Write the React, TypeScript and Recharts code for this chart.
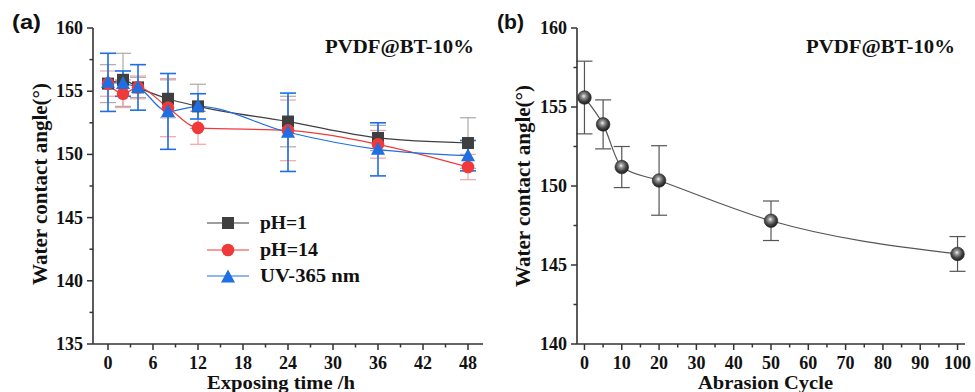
import React from "react";
import { LineChart, Line, XAxis, YAxis, ErrorBar } from "recharts";

// panel (a): exposing time
const hours = [0, 2, 4, 8, 12, 24, 36, 48];
const ph1 = [155.6, 155.9, 155.3, 154.4, 153.8, 152.6, 151.3, 150.9];
const ph1Err = [1.5, 2.1, 0.8, 1.5, 1.75, 2.0, 1.0, 2.0];
const ph14 = [155.6, 154.8, 155.3, 153.7, 152.1, 151.9, 150.8, 149.0];
const ph14Err = [1.0, 1.1, 0.9, 2.3, 1.3, 2.4, 1.1, 1.0];
const uv = [155.7, 155.6, 155.3, 153.4, 153.8, 151.75, 150.4, 149.9];
const uvErr = [2.3, 1.0, 1.8, 3.0, 1.0, 3.1, 2.1, 1.2];
const hourTicks = [0, 3, 6, 9, 12, 15, 18, 21, 24, 27, 30, 33, 36, 39, 42, 45, 48];
const angleTicksA = [135, 137.5, 140, 142.5, 145, 147.5, 150, 152.5, 155, 157.5, 160];

// panel (b): abrasion
const cycles = [0, 5, 10, 20, 50, 100];
const abrasion = [155.6, 153.9, 151.2, 150.35, 147.8, 145.7];
const abrasionErr = [2.3, 1.55, 1.3, 2.2, 1.25, 1.1];
const cycleTicks = [0, 5, 10, 15, 20, 25, 30, 35, 40, 45, 50, 55, 60, 65, 70, 75, 80, 85, 90, 95, 100];
const angleTicksB = [140, 142.5, 145, 147.5, 150, 152.5, 155, 157.5, 160];

const dataA = hours.map((t, i) => ({
  t,
  ph1: ph1[i],
  ph1Err: ph1Err[i],
  ph14: ph14[i],
  ph14Err: ph14Err[i],
  uv: uv[i],
  uvErr: uvErr[i],
}));
const dataB = cycles.map((c, i) => ({ c, v: abrasion[i], e: abrasionErr[i] }));

const SERIF = "Liberation Serif";
const SANS = "Liberation Sans";
const AXIS = "#333";
const BLACK = "#3f3f3f";
const RED = "#f03a3a";
const BLUE = "#1f6fe3";

const serifStyle = { fontFamily: SERIF, fontWeight: 700 };

const isMajor = (v: number, step: number) => Math.abs(v / step - Math.round(v / step)) < 1e-6;

const makeYTick = (step: number) => (props: any) => {
  const { x, y, payload } = props;
  const major = isMajor(payload.value, step);
  return (
    <g>
      <line x1={x} x2={x - (major ? 6 : 3.5)} y1={y} y2={y} stroke={AXIS} strokeWidth={1.5} />
      {major && (
        <text x={x - 10} y={y + 6} textAnchor="end" style={serifStyle} fontSize={18} fill="#111">
          {payload.value}
        </text>
      )}
    </g>
  );
};

const makeXTick = (step: number) => (props: any) => {
  const { x, y, payload } = props;
  const major = isMajor(payload.value, step);
  return (
    <g>
      <line x1={x} x2={x} y1={y} y2={y + (major ? 6 : 3.5)} stroke={AXIS} strokeWidth={1.5} />
      {major && (
        <text x={x} y={y + 25} textAnchor="middle" style={serifStyle} fontSize={18} fill="#111">
          {payload.value}
        </text>
      )}
    </g>
  );
};

const Square = ({ cx, cy }: any) => <rect x={cx - 6} y={cy - 6} width={12} height={12} fill={BLACK} />;
const Circle = ({ cx, cy }: any) => <circle cx={cx} cy={cy} r={6.3} fill={RED} />;
const Triangle = ({ cx, cy }: any) => (
  <path d={`M${cx},${cy - 7.5} L${cx + 7},${cy + 5.5} L${cx - 7},${cy + 5.5} Z`} fill={BLUE} />
);
const Sphere = ({ cx, cy }: any) => <circle cx={cx} cy={cy} r={6.8} fill="url(#sphereGrad)" stroke="#222" strokeWidth={0.6} />;

const frameLine = { stroke: AXIS, strokeWidth: 1.6 };

const PanelA = () => (
  <LineChart width={490} height={392} data={dataA} margin={{ top: 28, right: 7, bottom: 0, left: 0 }}>
    <XAxis
      dataKey="t"
      type="number"
      domain={[-2, 50]}
      ticks={hourTicks}
      interval={0}
      tickSize={0}
      tickMargin={0}
      tickLine={false}
      height={48}
      axisLine={frameLine}
      tick={makeXTick(6)}
      allowDataOverflow
    />
    <XAxis xAxisId="top" orientation="top" type="number" domain={[-2, 50]} height={0} tick={false} tickLine={false} axisLine={frameLine} />
    <YAxis
      type="number"
      domain={[135, 160]}
      ticks={angleTicksA}
      interval={0}
      tickSize={0}
      tickMargin={0}
      tickLine={false}
      width={93}
      axisLine={frameLine}
      tick={makeYTick(5)}
      allowDataOverflow
    />
    <YAxis yAxisId="right" orientation="right" type="number" domain={[135, 160]} width={0} tick={false} tickLine={false} axisLine={frameLine} />
    <Line dataKey="ph1" type="monotone" stroke={BLACK} strokeWidth={1.2} dot={(p: any) => <Square key={p.index} {...p} />} isAnimationActive={false}>
      <ErrorBar dataKey="ph1Err" direction="y" width={8} stroke="#aaaaaa" strokeWidth={1.2} />
    </Line>
    <Line dataKey="ph14" type="monotone" stroke={RED} strokeWidth={1.2} dot={(p: any) => <Circle key={p.index} {...p} />} isAnimationActive={false}>
      <ErrorBar dataKey="ph14Err" direction="y" width={8} stroke="#f5a3a3" strokeWidth={1.2} />
    </Line>
    <Line dataKey="uv" type="monotone" stroke={BLUE} strokeWidth={1.2} dot={(p: any) => <Triangle key={p.index} {...p} />} isAnimationActive={false}>
      <ErrorBar dataKey="uvErr" direction="y" width={8} stroke={BLUE} strokeWidth={1.6} />
    </Line>
  </LineChart>
);

const PanelB = () => (
  <LineChart width={485} height={392} data={dataB} margin={{ top: 28, right: 10, bottom: 0, left: 0 }}>
    <defs>
      <radialGradient id="sphereGrad" cx="45%" cy="40%" r="60%">
        <stop offset="0%" stopColor="#f4f4f4" />
        <stop offset="25%" stopColor="#9a9a9a" />
        <stop offset="65%" stopColor="#444" />
        <stop offset="100%" stopColor="#1c1c1c" />
      </radialGradient>
    </defs>
    <XAxis
      dataKey="c"
      type="number"
      domain={[-2, 102]}
      ticks={cycleTicks}
      interval={0}
      tickSize={0}
      tickMargin={0}
      tickLine={false}
      height={48}
      axisLine={frameLine}
      tick={makeXTick(10)}
      allowDataOverflow
    />
    <XAxis xAxisId="top" orientation="top" type="number" domain={[-2, 102]} height={0} tick={false} tickLine={false} axisLine={frameLine} />
    <YAxis
      type="number"
      domain={[140, 160]}
      ticks={angleTicksB}
      interval={0}
      tickSize={0}
      tickMargin={0}
      tickLine={false}
      width={87}
      axisLine={frameLine}
      tick={makeYTick(5)}
      allowDataOverflow
    />
    <YAxis yAxisId="right" orientation="right" type="number" domain={[140, 160]} width={0} tick={false} tickLine={false} axisLine={frameLine} />
    <Line dataKey="v" type="monotone" stroke="#555" strokeWidth={1.2} dot={(p: any) => <Sphere key={p.index} {...p} />} isAnimationActive={false}>
      <ErrorBar dataKey="e" direction="y" width={8} stroke="#555" strokeWidth={1.2} />
    </Line>
  </LineChart>
);

const txt = { style: serifStyle, fill: "#111", lengthAdjust: "spacingAndGlyphs" };

const Overlay = () => (
  <svg width={975} height={392} style={{ position: "absolute", left: 0, top: 0, pointerEvents: "none" }}>
    <text x={12} y={29} style={{ fontFamily: SANS, fontWeight: 700 }} fontSize={21} fill="#111" textLength={29} lengthAdjust="spacingAndGlyphs">(a)</text>
    <text x={497} y={29} style={{ fontFamily: SANS, fontWeight: 700 }} fontSize={21} fill="#111" textLength={27} lengthAdjust="spacingAndGlyphs">(b)</text>

    <text {...txt} x={325} y={53} fontSize={18} textLength={149}>PVDF@BT-10%</text>
    <text {...txt} x={806} y={53} fontSize={18} textLength={149}>PVDF@BT-10%</text>

    <text {...txt} fontSize={20} textAnchor="middle" textLength={202} transform="translate(47,184) rotate(-90)">Water contact angle(°)</text>
    <text {...txt} fontSize={20} textAnchor="middle" textLength={202} transform="translate(530,186) rotate(-90)">Water contact angle(°)</text>

    <text {...txt} x={207} y={389} fontSize={19} textLength={148}>Exposing time /h</text>
    <text {...txt} x={698} y={389} fontSize={19} textLength={135}>Abrasion Cycle</text>

    {/* legend, panel (a) */}
    <line x1={207} x2={249} y1={223} y2={223} stroke={BLACK} strokeWidth={1.2} />
    <Square cx={228} cy={223} />
    <text {...txt} x={260} y={229} fontSize={18} textLength={47}>pH=1</text>
    <line x1={207} x2={249} y1={250} y2={250} stroke={RED} strokeWidth={1.2} />
    <Circle cx={228} cy={250} />
    <text {...txt} x={260} y={256} fontSize={18} textLength={58}>pH=14</text>
    <line x1={207} x2={249} y1={276} y2={276} stroke={BLUE} strokeWidth={1.2} />
    <Triangle cx={228} cy={277} />
    <text {...txt} x={260} y={282} fontSize={18} textLength={100}>UV-365 nm</text>
  </svg>
);

export default function App() {
  return (
    <div style={{ position: "absolute", left: 0, top: 0, width: 975, height: 392, background: "#fff" }}>
      <div style={{ position: "absolute", left: 0, top: 0 }}>
        <PanelA />
      </div>
      <div style={{ position: "absolute", left: 490, top: 0 }}>
        <PanelB />
      </div>
      <Overlay />
    </div>
  );
}
